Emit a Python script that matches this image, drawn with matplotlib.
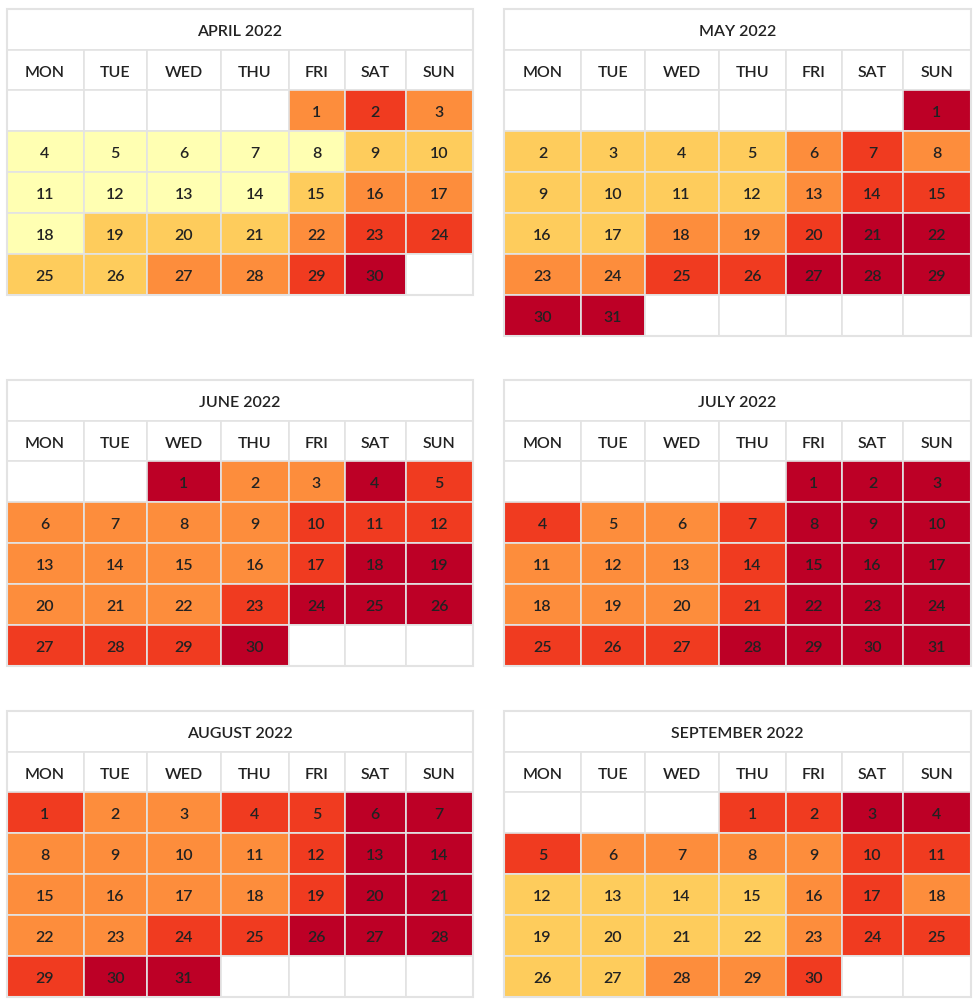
import calendar
import matplotlib.pyplot as plt
from matplotlib.patches import Rectangle

# colour level (0-4) of every day, in day order
months = ["APRIL", "MAY", "JUNE", "JULY", "AUGUST", "SEPTEMBER"]
month_nums = [4, 5, 6, 7, 8, 9]
year = 2022
weekdays = ["MON", "TUE", "WED", "THU", "FRI", "SAT", "SUN"]

april = [2, 3, 2,
         0, 0, 0, 0, 0, 1, 1,
         0, 0, 0, 0, 1, 2, 2,
         0, 1, 1, 1, 2, 3, 3,
         1, 1, 2, 2, 3, 4]
may = [4,
       1, 1, 1, 1, 2, 3, 2,
       1, 1, 1, 1, 2, 3, 3,
       1, 1, 2, 2, 3, 4, 4,
       2, 2, 3, 3, 4, 4, 4,
       4, 4]
june = [4, 2, 2, 4, 3,
        2, 2, 2, 2, 3, 3, 3,
        2, 2, 2, 2, 3, 4, 4,
        2, 2, 2, 3, 4, 4, 4,
        3, 3, 3, 4]
july = [4, 4, 4,
        3, 2, 2, 3, 4, 4, 4,
        2, 2, 2, 3, 4, 4, 4,
        2, 2, 2, 3, 4, 4, 4,
        3, 3, 3, 4, 4, 4, 4]
august = [3, 2, 2, 3, 3, 4, 4,
          2, 2, 2, 2, 3, 4, 4,
          2, 2, 2, 2, 3, 4, 4,
          2, 2, 3, 3, 4, 4, 4,
          3, 4, 4]
september = [3, 3, 4, 4,
             3, 2, 2, 2, 2, 3, 3,
             1, 1, 1, 1, 2, 3, 2,
             1, 1, 1, 1, 2, 3, 3,
             1, 1, 2, 2, 3]
levels = [april, may, june, july, august, september]

colors = ["#ffffb2", "#fecc5c", "#fd8d3c", "#f03b20", "#bd0026"]
grid_color = "#e3e3e3"
text_color = "#222222"

plt.rcParams['font.family'] = ['Lato', 'DejaVu Sans']

fig = plt.figure(figsize=(9.76, 10.04), dpi=100)
ax = fig.add_axes([0, 0, 1, 1])
ax.set_xlim(0, 976)
ax.set_ylim(1004, 0)
ax.axis('off')

# layout in pixels
col_w = [77, 63.5, 74, 67.5, 56, 61, 67.5]
left_x = [6.5, 504]
top_y = [10, 381, 712]
title_h = 41
head_h = 40
row_h = 41
fs = 11.5


def cell(x, y, w, h, fc, label=None):
    ax.add_patch(Rectangle((x, y), w, h, facecolor=fc, edgecolor=grid_color, linewidth=1.2))
    if label is not None:
        ax.text(x + w / 2, y + h / 2 + 1.8, label, ha='center', va='center',
                fontsize=fs, color=text_color, fontweight='semibold')


for i, (name, m, lv) in enumerate(zip(months, month_nums, levels)):
    x0 = left_x[i % 2]
    y0 = top_y[i // 2]
    total_w = sum(col_w)
    cell(x0, y0, total_w, title_h, "white", f"{name} {year}")

    xs = [x0 + sum(col_w[:k]) for k in range(7)]
    y = y0 + title_h
    for k in range(7):
        cell(xs[k], y, col_w[k], head_h, "white", weekdays[k])

    y += head_h
    weeks = calendar.monthcalendar(year, m)
    for week in weeks:
        for k, d in enumerate(week):
            if d == 0:
                cell(xs[k], y, col_w[k], row_h, "white")
            else:
                cell(xs[k], y, col_w[k], row_h, colors[lv[d - 1]], str(d))
        y += row_h

    # outer frame
    ax.add_patch(Rectangle((x0, y0), total_w, y - y0, facecolor='none',
                           edgecolor=grid_color, linewidth=1.5))

fig.savefig("out.png", dpi=100)
